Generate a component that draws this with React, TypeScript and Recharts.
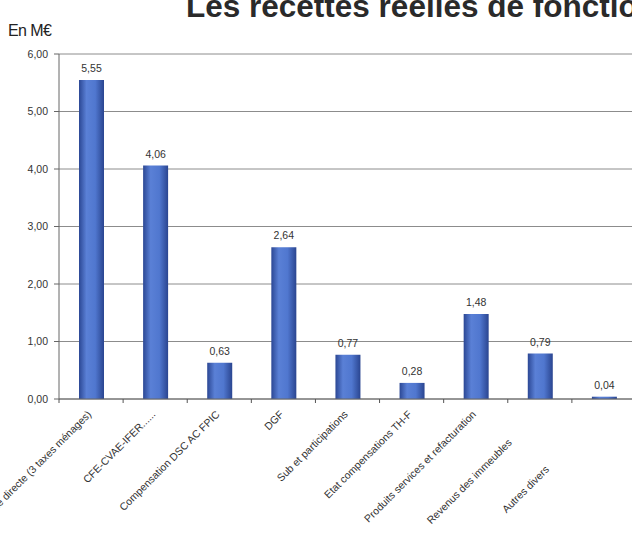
import { BarChart, Bar, XAxis, YAxis, CartesianGrid, LabelList } from 'recharts';

const categories = [
  'Fiscalité directe (3 taxes ménages)',
  'CFE-CVAE-IFER......',
  'Compensation DSC AC FPIC',
  'DGF',
  'Sub et participations',
  'Etat compensations TH-F',
  'Produits services et refacturation',
  'Revenus des immeubles',
  'Autres divers',
];
const values = [5.55, 4.06, 0.63, 2.64, 0.77, 0.28, 1.48, 0.79, 0.04];
const yTicks = [0, 1, 2, 3, 4, 5, 6];

const data = categories.map((name, i) => ({ name, value: values[i] }));

const sans = '"Liberation Sans", Arial, sans-serif';
const fr = (v: number) => v.toFixed(2).replace('.', ',');

// the last two labels slide further down their slant, as in the scan
const labelSlide: Record<number, number> = { 7: 40, 8: 78 };

const CategoryTick = (props: any) => {
  const { x, y, payload, index } = props;
  const half = payload.offset || 0;
  const s = (labelSlide[index] || 0) / Math.SQRT2;
  const tx = x + 1 - s;
  const ty = y + 8 + s;
  return (
    <g>
      <line x1={x - half} y1={y - 8} x2={x - half} y2={y - 4} stroke="#555" />
      <text
        x={tx}
        y={ty}
        transform={`rotate(-45 ${tx} ${ty})`}
        textAnchor="end"
        fontSize={10.5}
        fontFamily={sans}
        fill="#333"
      >
        {payload.value}
      </text>
    </g>
  );
};

export default function App() {
  return (
    <div
      style={{
        position: 'fixed',
        left: 0,
        top: 0,
        width: 632,
        height: 536,
        overflow: 'hidden',
        background: '#fff',
      }}
    >
      <BarChart
        width={640}
        height={536}
        data={data}
        margin={{ top: 54, right: 4, left: 0, bottom: 6 }}
        barCategoryGap={0}
      >
        <defs>
          <linearGradient id="barFill" x1="0" y1="0" x2="1" y2="0">
            <stop offset="0%" stopColor="#2b4794" />
            <stop offset="30%" stopColor="#5a80d6" />
            <stop offset="65%" stopColor="#5077cf" />
            <stop offset="100%" stopColor="#2a4590" />
          </linearGradient>
        </defs>
        <CartesianGrid vertical={false} stroke="#8c8c8c" />
        <XAxis
          dataKey="name"
          height={131}
          interval={0}
          tickLine={false}
          axisLine={{ stroke: '#666' }}
          tick={<CategoryTick />}
        />
        <YAxis
          width={59}
          domain={[0, 6]}
          ticks={yTicks}
          tickFormatter={fr}
          tickSize={5}
          tickMargin={6}
          axisLine={{ stroke: '#666' }}
          tickLine={{ stroke: '#666' }}
          tick={{ fontSize: 10.5, fill: '#333', fontFamily: sans }}
        />
        <Bar dataKey="value" fill="url(#barFill)" barSize={25} isAnimationActive={false}>
          <LabelList
            dataKey="value"
            position="top"
            offset={8}
            formatter={(v: any) => fr(Number(v))}
            style={{ fontSize: 10.5, fill: '#333', fontFamily: sans }}
          />
        </Bar>
      </BarChart>
      <svg
        width={632}
        height={536}
        style={{ position: 'absolute', left: 0, top: 0, pointerEvents: 'none' }}
      >
        <text
          x={186}
          y={16.5}
          fontSize={31.5}
          fontWeight="bold"
          fontFamily={sans}
          fill="#2a2a2a"
        >
          Les recettes réelles de fonctionnement
        </text>
        <text x={8} y={36} fontSize={16} fontFamily={sans} fill="#222" textLength={44}>
          En M€
        </text>
      </svg>
    </div>
  );
}
